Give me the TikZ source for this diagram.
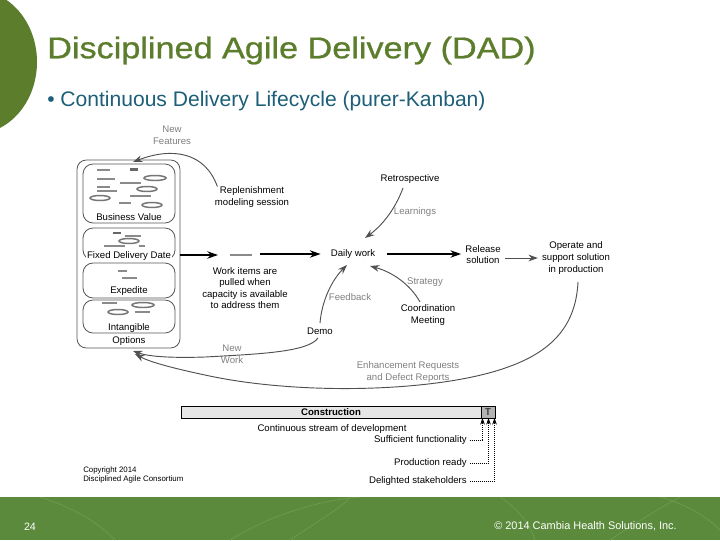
\documentclass[tikz,border=0pt]{standalone}
\usepackage{fontspec}
\setmainfont{Liberation Sans}
\newfontfamily\titlefont[FakeBold=0.8]{Liberation Sans}
\usetikzlibrary{arrows.meta}
\definecolor{dadgreen}{HTML}{5B7D2C}
\definecolor{bandgreen}{HTML}{5B8A3C}
\definecolor{bandline}{HTML}{6A9A4A}
\definecolor{subblue}{HTML}{1D5F78}
\definecolor{lblgray}{HTML}{808080}
\definecolor{arrgray}{HTML}{505050}
\definecolor{boxline}{HTML}{555555}
\definecolor{itemgray}{HTML}{8A8A8A}
\definecolor{constrfill}{HTML}{E6E6E6}
\definecolor{tfill}{HTML}{B3B3B3}
\begin{document}
\begin{tikzpicture}[x=0.75pt,y=-0.75pt,
  txt/.style={font=\fontsize{7.2}{8.7}\selectfont, align=center, inner sep=0pt},
  gtxt/.style={txt, text=lblgray},
  garrow/.style={draw=arrgray, line width=0.7pt, -{Stealth[length=7pt,width=5pt]}},
  barrow/.style={draw=black, line width=1.3pt, -{Stealth[length=8pt,width=5.5pt]}},
  outerbox/.style={draw=boxline, line width=0.6pt, rounded corners=7pt, minimum width=77.25pt, minimum height=141pt, inner sep=0pt},
  innerbox/.style={draw=boxline, line width=0.6pt, rounded corners=7.5pt, minimum width=69pt, inner sep=0pt},
  gl/.style={draw=itemgray, line width=1pt},
  dl/.style={draw=itemgray!75!black, line width=1.7pt},
  ge/.style={draw=itemgray!85!black, line width=1.1pt},
  dotarrow/.style={draw=black, densely dotted, line width=0.5pt, -{Stealth[length=5pt,width=3.5pt]}},
  phase/.style={draw=black, line width=0.6pt, minimum height=9pt, inner sep=0pt, font=\bfseries\fontsize{7.2}{8}\selectfont}
]
\useasboundingbox (0,0) rectangle (720,540);
\fill[white] (0,0) rectangle (720,540);

% decorative left disc and bottom band
\fill[dadgreen] (-25,62) ellipse [x radius=62, y radius=72];
\fill[bandgreen] (0,497) rectangle (720,540);
\begin{scope}
\clip (0,497) rectangle (720,540);
\draw[bandline, line width=0.6pt] (40,497) .. controls (80,510) and (100,525) .. (115,540);
\draw[bandline, line width=0.6pt] (230,540) .. controls (270,515) and (320,500) .. (360,497);
\draw[bandline, line width=0.6pt] (290,540) .. controls (320,520) and (345,505) .. (350,497);
\draw[bandline, line width=0.6pt] (610,540) .. controls (640,520) and (665,505) .. (680,497);
\draw[bandline, line width=0.6pt] (500,497) .. controls (520,510) and (530,525) .. (535,540);
\draw[bandline, line width=0.6pt] (660,497) .. controls (690,505) and (710,520) .. (720,530);
\end{scope}

% title and subtitle
\node[anchor=west, inner sep=0pt, text=dadgreen, font=\titlefont\fontsize{22.5}{26}\selectfont] (title) at (47,50.5) {\scalebox{1.14}[1]{Disciplined Agile Delivery (DAD)}};
\node[anchor=west, inner sep=0pt, text=subblue, font=\fontsize{15.8}{18}\selectfont] (subtitle) at (47,101.5) {\textbullet\ Continuous Delivery Lifecycle (purer-Kanban)};

% left stack of work item classes
\node[outerbox] (stack) at (128.5,254) {};
\node[innerbox, minimum height=44.25pt] (bv) at (129,193.5) {};
\node[innerbox, minimum height=24pt] (fdd) at (129,244) {};
\node[innerbox, minimum height=26.25pt] (exp) at (129,280.5) {};
\node[innerbox, minimum height=24.75pt] (ib) at (129,316.5) {};
\node[txt] (bvl) at (129,217) {Business Value};
\node[txt, fill=white, inner sep=0.5pt] (fddl) at (129,256) {Fixed Delivery Date};
\node[txt] (expl) at (129,291) {Expedite};
\node[txt] (ibl) at (129,328) {Intangible};
\node[txt] (opl) at (129,341) {Options};

% items in Business Value
\draw[gl] (97,170) -- (110,170);
\draw[dl] (130,169.5) -- (138,169.5);
\draw[ge] (155,178) ellipse [x radius=11, y radius=2.5];
\draw[gl] (97,179) -- (115,179);
\draw[gl] (120,183) -- (141,183);
\draw[gl] (97,187) -- (110,187);
\draw[ge] (147,189) ellipse [x radius=10, y radius=2.5];
\draw[gl] (97,191) -- (117,191);
\draw[gl] (130,196) -- (151,196);
\draw[ge] (100,198) ellipse [x radius=10, y radius=2.5];
\draw[gl] (119,203) -- (131,203);
\draw[ge] (152,205) ellipse [x radius=10, y radius=2.5];
% items in Fixed Delivery Date
\draw[dl] (113,233) -- (121,233);
\draw[gl] (125,236) -- (141,236);
\draw[ge] (129,241) ellipse [x radius=10, y radius=2.5];
\draw[gl] (104,246) -- (125,246);
\draw[gl] (139,246) -- (145,246);
% items in Expedite
\draw[gl] (118,271) -- (127,271);
\draw[gl] (122,278) -- (137,278);
% items in Intangible
\draw[gl] (102,303) -- (117,303);
\draw[ge] (143,305) ellipse [x radius=11, y radius=2.5];
\draw[ge] (118,312) ellipse [x radius=10, y radius=2.5];
\draw[gl] (135,312) -- (150,312);

% text nodes of the lifecycle
\node[gtxt] (newfeat) at (172,135) {New\\Features};
\node[txt] (repl) at (252,197) {Replenishment\\modeling session};
\node[txt] (workitems) at (245,288) {Work items are\\pulled when\\capacity is available\\to address them};
\node[txt] (daily) at (353,254) {Daily work};
\node[txt] (retro) at (410,179) {Retrospective};
\node[gtxt] (learn) at (415,212) {Learnings};
\node[txt] (release) at (483,254.5) {Release\\solution};
\node[txt] (operate) at (576,258) {Operate and\\support solution\\in production};
\node[gtxt] (strategy) at (425,282) {Strategy};
\node[txt] (coord) at (428,315) {Coordination\\Meeting};
\node[gtxt] (feedback) at (350,297) {Feedback};
\node[txt] (demo) at (320,331) {Demo};
\node[gtxt] (newwork) at (232,354) {New\\Work};
\node[gtxt] (enh) at (408,372) {Enhancement Requests\\and Defect Reports};

% coordinates for free ends
\coordinate (nfend) at (133,162);
\coordinate (d1) at (218,255);
\coordinate (d2) at (230,255);
\coordinate (d3) at (252,255);
\coordinate (d4) at (260,254);
\coordinate (optend) at (133,351);
\coordinate (optend2) at (135,354);
\coordinate (retrostart) at (403,188);
\coordinate (learntip) at (365,238);
\coordinate (coordstart) at (420,302);
\coordinate (strattip) at (370,266);
\coordinate (demostart) at (320,323);
\coordinate (feedtip) at (347,265);
\coordinate (demobottom) at (318,338);
\coordinate (opstart) at (578,282);

% connectors
\draw[garrow] ([xshift=-26pt]repl.north) .. controls (205,152) and (172,147) .. (nfend);
\draw[barrow] (stack.east |- d1) -- (d1);
\draw[draw=itemgray, line width=1pt] (d2) -- (d3);
\draw[barrow, shorten >=7.5pt] (d4) -- (daily.west |- d4);
\draw[barrow, shorten <=9pt, shorten >=3pt] (daily.east) -- (release.west |- daily.east);
\draw[garrow, shorten <=3pt, shorten >=3pt] (release.east |- 0,258) -- (operate.west |- 0,258);
\draw[garrow] (retrostart) .. controls (396,207) and (384,224) .. (learntip);
\draw[garrow] (coordstart) .. controls (410,284) and (392,272) .. (strattip);
\draw[garrow] (demostart) .. controls (322,300) and (332,280) .. (feedtip);
\draw[garrow] (demobottom) .. controls (308,352) and (260,354) .. (205,357) .. controls (175,358) and (150,357) .. (optend);
\draw[garrow] (opstart) .. controls (576,322) and (556,350) .. (508,367) .. controls (440,392) and (300,396) .. (205,375) .. controls (172,368) and (150,362) .. (optend2);

% phase bar
\node[phase, fill=constrfill, minimum width=225pt] (constr) at (331,412) {Construction};
\node[phase, fill=tfill, minimum width=10.5pt, font=\fontsize{7.2}{8}\selectfont] (tph) at (488,412) {T};
\node[txt] (stream) at (332,429) {Continuous stream of development};
\node[txt, anchor=east] (suff) at (467,440.5) {Sufficient functionality};
\node[txt, anchor=east] (prod) at (467,463) {Production ready};
\node[txt, anchor=east] (delight) at (467,481) {Delighted stakeholders};
\coordinate (t1) at (482.5,418);
\coordinate (t2) at (488.5,418);
\coordinate (t3) at (494.5,418);
\draw[dotarrow, shorten <=2pt] (suff.east) -| (t1);
\draw[dotarrow, shorten <=2pt] (prod.east) -| (t2);
\draw[dotarrow, shorten <=2pt] (delight.east) -| (t3);

% copyright of diagram
\node[anchor=west, inner sep=0pt, font=\fontsize{5.9}{7.2}\selectfont, align=left] (copy) at (83,475) {Copyright 2014\\Disciplined Agile Consortium};

% footer
\node[inner sep=0pt, text=white, font=\fontsize{8}{9}\selectfont] (pagenum) at (30,526.5) {24};
\node[anchor=east, inner sep=0pt, text=white, font=\fontsize{8.2}{9}\selectfont] (footer) at (677,526) {\textcopyright\ 2014 Cambia Health Solutions, Inc.};
\end{tikzpicture}
\end{document}
